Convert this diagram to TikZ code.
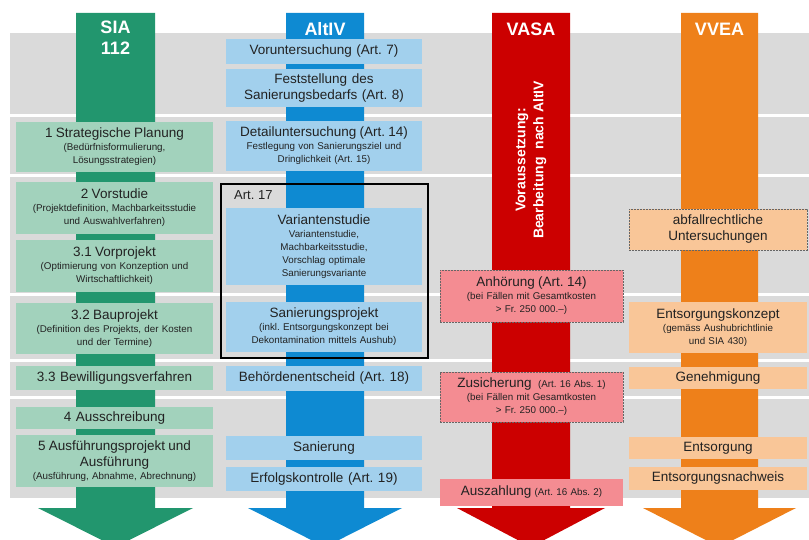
\documentclass[tikz,border=0pt]{standalone}
\usepackage{fontspec}
\setmainfont{Liberation Sans}
\frenchspacing
\definecolor{siagreen}{RGB}{34,150,110}
\definecolor{sialight}{RGB}{162,210,188}
\definecolor{altblue}{RGB}{14,138,210}
\definecolor{altlight}{RGB}{162,208,237}
\definecolor{vasared}{RGB}{204,0,0}
\definecolor{vasalight}{RGB}{244,140,146}
\definecolor{vveaorange}{RGB}{238,128,26}
\definecolor{vvealight}{RGB}{249,198,152}
\definecolor{bggrey}{RGB}{218,218,218}
\definecolor{boxtext}{RGB}{34,34,34}
\newcommand{\boxtitle}{\fontsize{13.5}{16}\selectfont}
\newcommand{\boxnote}{\fontsize{9.8}{13}\selectfont}
\newcommand{\headfont}{\fontsize{18}{21}\selectfont\bfseries}
\newcommand{\vertfont}{\fontsize{14}{18}\selectfont\bfseries}
\begin{document}
\begin{tikzpicture}[x=1pt, y=-1pt,
  sbox/.style={fill=sialight, text width=197pt, minimum height=#1, align=center, inner sep=0pt, text=boxtext, font=\boxnote},
  abox/.style={fill=altlight, text width=196pt, minimum height=#1, align=center, inner sep=0pt, text=boxtext, font=\boxnote},
  vbox/.style={fill=vasalight, text width=183pt, minimum height=#1, align=center, inner sep=0pt, text=boxtext, font=\boxnote},
  ebox/.style={fill=vvealight, text width=178pt, minimum height=#1, align=center, inner sep=0pt, text=boxtext, font=\boxnote},
  dashbox/.style={draw=black!60, dash pattern=on 2pt off 1pt, line width=0.7pt},
  head/.style={text=white, font=\headfont, align=center, inner sep=0pt},
  sep/.style={white, line width=3pt}]
\useasboundingbox (0,0) rectangle (809,540);
\clip (0,0) rectangle (809,540);
% background and row separators
\fill[bggrey] (10,33) rectangle (809,498);
\foreach \y in {116,176,295,360,397}
  \draw[sep] (10,\y) -- (809,\y);
% the four columns
\fill[siagreen] (76,13) -- (155,13) -- (155,508) -- (193,508) -- (115.5,547) -- (38,508) -- (76,508) -- cycle;
\fill[altblue] (286,13) -- (364,13) -- (364,508) -- (402,508) -- (325,547) -- (248,508) -- (286,508) -- cycle;
\fill[vasared] (492,13) -- (570,13) -- (570,508) -- (605,508) -- (531,547) -- (457,508) -- (492,508) -- cycle;
\fill[vveaorange] (681,13) -- (758,13) -- (758,508) -- (796,508) -- (719.5,547) -- (643,508) -- (681,508) -- cycle;
\node[head] (siahd) at (115.5,38) {SIA\\112};
\node[head] (althd) at (325,29) {AltIV};
\node[head] (vasahd) at (531,29) {VASA};
\node[head] (vveahd) at (719.5,29) {VVEA};
\node[head, font=\vertfont, rotate=90] (vasanote) at (531,160) {Voraussetzung:\\Bearbeitung\ \ nach AltIV};
% SIA 112
\node[sbox=50] (sia1) at (114.5,147) {{\boxtitle 1 Strategische Planung}\\(Bedürfnisformulierung,\\Lösungsstrategien)};
\node[sbox=52] (sia2) at (114.5,208) {{\boxtitle 2 Vorstudie}\\(Projektdefinition, Machbarkeitsstudie\\und Auswahlverfahren)};
\node[sbox=52] (sia31) at (114.5,266) {{\boxtitle 3.1 Vorprojekt}\\(Optimierung von Konzeption und\\Wirtschaftlichkeit)};
\node[sbox=51] (sia32) at (114.5,328.5) {{\boxtitle 3.2 Bauprojekt}\\(Definition des Projekts, der Kosten\\und der Termine)};
\node[sbox=24, font=\boxtitle] (sia33) at (114.5,378) {3.3 Bewilligungsverfahren};
\node[sbox=22, font=\boxtitle] (sia4) at (114.5,418) {4 Ausschreibung};
\node[sbox=52] (sia5) at (114.5,461) {{\boxtitle 5 Ausführungsprojekt und}\\[3pt]{\boxtitle Ausführung}\\(Ausführung, Abnahme, Abrechnung)};
% AltIV
\node[abox=25, font=\boxtitle] (alt1) at (324,51.5) {Voruntersuchung (Art. 7)};
\node[abox=38, font=\boxtitle] (alt2) at (324,88) {Feststellung des\\Sanierungsbedarfs (Art. 8)};
\node[abox=50] (alt3) at (324,146) {{\boxtitle Detailuntersuchung (Art. 14)}\\Festlegung von Sanierungsziel und\\Dringlichkeit (Art. 15)};
\node[abox=77] (alt4) at (324,246.5) {{\boxtitle Variantenstudie}\\Variantenstudie,\\Machbarkeitsstudie,\\Vorschlag optimale\\Sanierungsvariante};
\node[abox=50] (alt5) at (324,327) {{\boxtitle Sanierungsprojekt}\\(inkl. Entsorgungskonzept bei\\Dekontamination mittels Aushub)};
\node[abox=25, font=\boxtitle] (alt6) at (324,378.5) {Behördenentscheid (Art. 18)};
\node[abox=24, font=\boxtitle] (alt7) at (324,448) {Sanierung};
\node[abox=24, font=\boxtitle] (alt8) at (324,479) {Erfolgskontrolle (Art. 19)};
\node[draw, line width=1.8pt, minimum width=207, minimum height=174, inner sep=0pt] (art17box) at (324.5,271) {};
\node[anchor=north west, font=\fontsize{13}{15}\selectfont, text=boxtext, inner sep=0pt] (art17) at (234,190) {Art. 17};
% VASA
\node[vbox=52, dashbox] (vasa1) at (531.5,296) {{\boxtitle Anhörung (Art. 14)}\\(bei Fällen mit Gesamtkosten\\> Fr. 250 000.–)};
\node[vbox=50, dashbox] (vasa2) at (531.5,397) {{\boxtitle Zusicherung}\ \ (Art. 16 Abs. 1)\\(bei Fällen mit Gesamtkosten\\> Fr. 250 000.–)};
\node[vbox=27] (vasa3) at (531.5,492.5) {{\boxtitle Auszahlung} (Art. 16 Abs. 2)};
% VVEA
\node[ebox=41, dashbox, font=\boxtitle] (vvea1) at (718,229.5) {abfallrechtliche\\Untersuchungen};
\node[ebox=51] (vvea2) at (718,327.5) {{\boxtitle Entsorgungskonzept}\\(gemäss Aushubrichtlinie\\und SIA 430)};
\node[ebox=22, font=\boxtitle] (vvea3) at (718,378) {Genehmigung};
\node[ebox=22, font=\boxtitle] (vvea4) at (718,448) {Entsorgung};
\node[ebox=23, font=\boxtitle] (vvea5) at (718,478.5) {Entsorgungsnachweis};
\end{tikzpicture}
\end{document}
